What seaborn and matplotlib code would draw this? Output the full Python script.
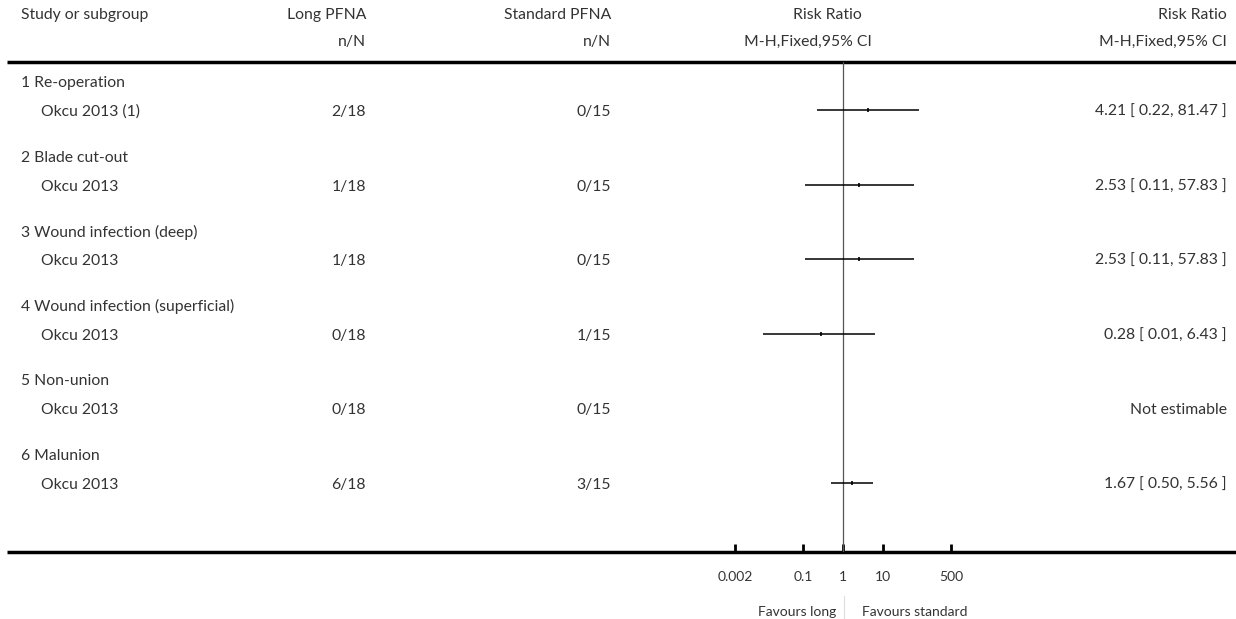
import numpy as np
import pandas as pd
import matplotlib.pyplot as plt
import seaborn as sns
from matplotlib.ticker import NullLocator

plt.switch_backend('Agg')

# --------------------------
# Data
# --------------------------
groups = ["1 Re-operation", "2 Blade cut-out", "3 Wound infection (deep)",
          "4 Wound infection (superficial)", "5 Non-union", "6 Malunion"]
studies = ["Okcu 2013 (1)", "Okcu 2013", "Okcu 2013", "Okcu 2013", "Okcu 2013", "Okcu 2013"]
long_nN = ["2/18", "1/18", "1/18", "0/18", "0/18", "6/18"]
std_nN = ["0/15", "0/15", "0/15", "1/15", "0/15", "3/15"]
rr = [4.21, 2.53, 2.53, 0.28, np.nan, 1.67]
ci_lo = [0.22, 0.11, 0.11, 0.01, np.nan, 0.50]
ci_hi = [81.47, 57.83, 57.83, 6.43, np.nan, 5.56]
tick_vals = [0.002, 0.1, 1, 10, 500]
tick_labels = ["0.002", "0.1", "1", "10", "500"]

df = pd.DataFrame({"group": groups, "study": studies, "rr": rr, "lo": ci_lo, "hi": ci_hi})

# --------------------------
# Layout (pixel coordinates)
# --------------------------
W, H = 1236, 619
first_row = 110
row_gap = 74.6
df["sy"] = first_row + row_gap * np.arange(len(df))
df["gy"] = df["sy"] - 27
line_top, line_bot = 62, 552
fx0, fx1 = 735, 951   # forest axis span in px
x_left, x_study, x_long, x_std, x_right = 21, 41, 366, 611, 1227

sns.set_theme(style="white")
plt.rcParams['font.family'] = ['Lato', 'DejaVu Sans']
txt = dict(fontsize=11.3, color="#333333")
small = dict(fontsize=10, color="#333333")

fig = plt.figure(figsize=(W / 100, H / 100), dpi=100)

# overlay for texts / rules
ov = fig.add_axes([0, 0, 1, 1])
ov.set_xlim(0, W)
ov.set_ylim(H, 0)
ov.axis("off")

# forest axis
fa = fig.add_axes([fx0 / W, 1 - line_bot / H, (fx1 - fx0) / W, (line_bot - line_top) / H])
fa.set_xscale("log")
fa.set_xlim(tick_vals[0], tick_vals[-1])
fa.set_ylim(line_bot, line_top)
fa.patch.set_alpha(0)
for s in fa.spines.values():
    s.set_visible(False)

# headers
ov.text(x_left, 15, "Study or subgroup", ha="left", va="center", **txt)
ov.text(x_long, 15, "Long PFNA", ha="right", va="center", **txt)
ov.text(x_std, 15, "Standard PFNA", ha="right", va="center", **txt)
ov.text(x_long, 42, "n/N", ha="right", va="center", **txt)
ov.text(x_std, 42, "n/N", ha="right", va="center", **txt)
ov.text(862, 15, "Risk Ratio", ha="right", va="center", **txt)
ov.text(872, 42, "M-H,Fixed,95% CI", ha="right", va="center", **txt)
ov.text(x_right, 15, "Risk Ratio", ha="right", va="center", **txt)
ov.text(x_right, 42, "M-H,Fixed,95% CI", ha="right", va="center", **txt)

# rules
ov.plot([7, W], [line_top, line_top], color="black", lw=2.5, solid_capstyle="butt")
ov.plot([7, W], [line_bot, line_bot], color="black", lw=2.5, solid_capstyle="butt")

# rows
for i, r in df.iterrows():
    ov.text(x_left, r.gy, r.group, ha="left", va="center", **txt)
    ov.text(x_study, r.sy + 2, r.study, ha="left", va="center", **txt)
    ov.text(x_long, r.sy + 2, long_nN[i], ha="right", va="center", **txt)
    ov.text(x_std, r.sy + 2, std_nN[i], ha="right", va="center", **txt)
    if np.isnan(r.rr):
        lab = "Not estimable"
    else:
        lab = f"{r.rr:.2f} [ {r.lo:.2f}, {r.hi:.2f} ]"
    ov.text(x_right, r.sy + 2, lab, ha="right", va="center", **txt)

# forest marks
fa.axvline(1, color="#555555", lw=0.9)
est = df.dropna(subset=["rr"])
fa.hlines(est["sy"], est["lo"], est["hi"], color="black", lw=1.1)
sns.scatterplot(data=est, x="rr", y="sy", marker="|", s=9, color="black",
                linewidth=1.2, ax=fa, legend=False)
fa.set_xlabel("")
fa.set_ylabel("")
fa.set_yticks([])

fa.set_xticks(tick_vals)
fa.set_xticklabels(tick_labels, **small)
fa.xaxis.set_minor_locator(NullLocator())
fa.tick_params(axis="x", direction="in", length=6, width=2, color="black",
               pad=14, bottom=True)

# favours
ov.text(836, 612, "Favours long", ha="right", va="center", **small)
ov.text(862, 612, "Favours standard", ha="left", va="center", **small)
ov.plot([844, 844], [596, H], color="#dddddd", lw=0.8)

fig.savefig("out.png", dpi=100)
plt.close()
